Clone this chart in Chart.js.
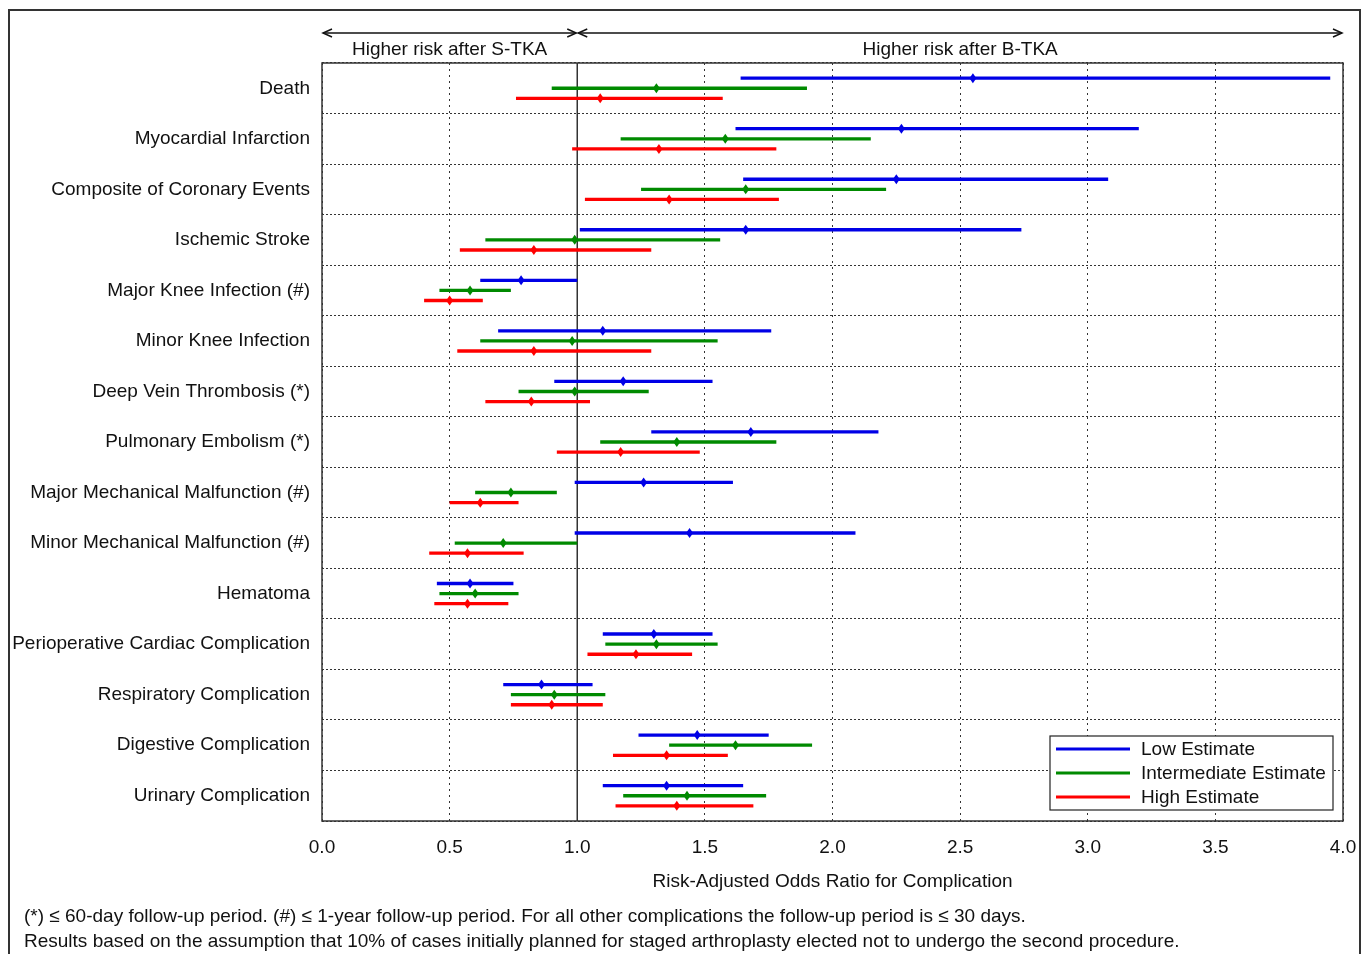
<!DOCTYPE html>
<html lang="en">
<head>
<meta charset="UTF-8">
<title>Risk-Adjusted Odds Ratio for Complication</title>
<script src="https://cdn.jsdelivr.net/npm/chart.js"></script>
<style>
  body { margin: 0; background: #fff; font-family: "Liberation Sans", Arial, sans-serif; }
  #wrap { position: relative; width: 1368px; height: 954px; overflow: hidden; }
  #frame { position: absolute; left: 8px; top: 9px; width: 1353px; height: 980px; border: 2px solid #333; box-sizing: border-box; pointer-events: none; }
  .note { position: absolute; left: 24px; font-size: 19px; color: #111; white-space: nowrap; }
</style>
</head>
<body>
<div id="wrap">
  <canvas id="forest"></canvas>
  <div id="frame"></div>
  <div class="note" style="top:905px">(*) &le; 60-day follow-up period. (#) &le; 1-year follow-up period. For all other complications the follow-up period is &le; 30 days.</div>
  <div class="note" style="top:930px">Results based on the assumption that 10% of cases initially planned for staged arthroplasty elected not to undergo the second procedure.</div>
</div>
<script>
// categories, top to bottom
const categories = [
  'Death', 'Myocardial Infarction', 'Composite of Coronary Events', 'Ischemic Stroke',
  'Major Knee Infection (#)', 'Minor Knee Infection', 'Deep Vein Thrombosis (*)',
  'Pulmonary Embolism (*)', 'Major Mechanical Malfunction (#)', 'Minor Mechanical Malfunction (#)',
  'Hematoma', 'Perioperative Cardiac Complication', 'Respiratory Complication',
  'Digestive Complication', 'Urinary Complication'
];
const xTicks = [0, 0.5, 1, 1.5, 2, 2.5, 3, 3.5, 4];

// odds ratio estimates and confidence limits
const lowPoint  = [2.55, 2.27, 2.25, 1.66, 0.78, 1.10, 1.18, 1.68, 1.26, 1.44, 0.58, 1.30, 0.86, 1.47, 1.35];
const lowLower  = [1.64, 1.62, 1.65, 1.01, 0.62, 0.69, 0.91, 1.29, 0.99, 0.99, 0.45, 1.10, 0.71, 1.24, 1.10];
const lowUpper  = [3.95, 3.20, 3.08, 2.74, 1.00, 1.76, 1.53, 2.18, 1.61, 2.09, 0.75, 1.53, 1.06, 1.75, 1.65];

const midPoint  = [1.31, 1.58, 1.66, 0.99, 0.58, 0.98, 0.99, 1.39, 0.74, 0.71, 0.60, 1.31, 0.91, 1.62, 1.43];
const midLower  = [0.90, 1.17, 1.25, 0.64, 0.46, 0.62, 0.77, 1.09, 0.60, 0.52, 0.46, 1.11, 0.74, 1.36, 1.18];
const midUpper  = [1.90, 2.15, 2.21, 1.56, 0.74, 1.55, 1.28, 1.78, 0.92, 1.00, 0.77, 1.55, 1.11, 1.92, 1.74];

const highPoint = [1.09, 1.32, 1.36, 0.83, 0.50, 0.83, 0.82, 1.17, 0.62, 0.57, 0.57, 1.23, 0.90, 1.35, 1.39];
const highLower = [0.76, 0.98, 1.03, 0.54, 0.40, 0.53, 0.64, 0.92, 0.50, 0.42, 0.44, 1.04, 0.74, 1.14, 1.15];
const highUpper = [1.57, 1.78, 1.79, 1.29, 0.63, 1.29, 1.05, 1.48, 0.77, 0.79, 0.73, 1.45, 1.10, 1.59, 1.69];

const seriesNames = ['Low Estimate', 'Intermediate Estimate', 'High Estimate'];
const seriesColors = ['#0000e6', '#008a00', '#ff0000'];
const points = [lowPoint, midPoint, highPoint];

const FONT = '"Liberation Sans", Arial, sans-serif';

function ranges(lo, hi) {
  return lo.map((v, i) => [v, hi[i]]);
}

// diamonds at the point estimates, placed on each interval bar
const pointMarks = {
  id: 'pointMarks',
  afterDatasetsDraw(chart) {
    const ctx = chart.ctx;
    const x = chart.scales.x;
    chart.data.datasets.forEach((ds, d) => {
      const meta = chart.getDatasetMeta(d);
      meta.data.forEach((bar, i) => {
        const px = x.getPixelForValue(points[d][i]);
        ctx.save();
        ctx.fillStyle = ds.backgroundColor;
        ctx.beginPath();
        ctx.moveTo(px, bar.y - 5);
        ctx.lineTo(px + 3.5, bar.y);
        ctx.lineTo(px, bar.y + 5);
        ctx.lineTo(px - 3.5, bar.y);
        ctx.closePath();
        ctx.fill();
        ctx.restore();
      });
    });
  }
};

// box, reference line at 1.0, header arrows and legend
const decorations = {
  id: 'decorations',
  beforeDatasetsDraw(chart) {
    const ctx = chart.ctx;
    const a = chart.chartArea;
    const x1 = chart.scales.x.getPixelForValue(1);
    ctx.save();
    ctx.strokeStyle = '#333';
    ctx.lineWidth = 1.5;
    ctx.beginPath();
    ctx.moveTo(x1, a.top);
    ctx.lineTo(x1, a.bottom);
    ctx.stroke();
    ctx.restore();
  },
  afterDraw(chart) {
    const ctx = chart.ctx;
    const a = chart.chartArea;
    const x = chart.scales.x;
    ctx.save();
    ctx.strokeStyle = '#333';
    ctx.lineWidth = 1.5;
    ctx.strokeRect(a.left, a.top, a.right - a.left, a.bottom - a.top);

    // arrows
    const y = 33;
    const p0 = x.getPixelForValue(0), p1 = x.getPixelForValue(1), p4 = x.getPixelForValue(4);
    ctx.strokeStyle = '#111';
    ctx.lineWidth = 1.5;
    function arrow(from, to) {
      ctx.beginPath();
      ctx.moveTo(from, y);
      ctx.lineTo(to, y);
      ctx.stroke();
      [[from, 1], [to, -1]].forEach(([px, dir]) => {
        ctx.beginPath();
        ctx.moveTo(px + dir * 9, y - 4);
        ctx.lineTo(px, y);
        ctx.lineTo(px + dir * 9, y + 4);
        ctx.stroke();
      });
    }
    arrow(p0 + 1, p1 - 1);
    arrow(p1 + 1, p4 - 1);
    ctx.fillStyle = '#111';
    ctx.font = '19px ' + FONT;
    ctx.textAlign = 'center';
    ctx.textBaseline = 'middle';
    ctx.fillText('Higher risk after S-TKA', x.getPixelForValue(0.5), 50);
    ctx.fillText('Higher risk after B-TKA', x.getPixelForValue(2.5), 50);

    // legend box
    const bx = a.right - 293, by = a.bottom - 85, bw = 283, bh = 74;
    ctx.fillStyle = '#fff';
    ctx.fillRect(bx, by, bw, bh);
    ctx.strokeStyle = '#222';
    ctx.lineWidth = 1.2;
    ctx.strokeRect(bx, by, bw, bh);
    ctx.textAlign = 'left';
    seriesNames.forEach((name, i) => {
      const ly = by + 13 + i * 24;
      ctx.strokeStyle = seriesColors[i];
      ctx.lineWidth = 3;
      ctx.beginPath();
      ctx.moveTo(bx + 6, ly);
      ctx.lineTo(bx + 80, ly);
      ctx.stroke();
      ctx.fillStyle = '#111';
      ctx.fillText(name, bx + 91, ly + 1);
    });
    ctx.restore();
  }
};

const ctx = document.getElementById('forest').getContext('2d');
new Chart(ctx, {
  type: 'bar',
  data: {
    labels: categories,
    datasets: [
      { label: seriesNames[0], data: ranges(lowLower, lowUpper), backgroundColor: seriesColors[0] },
      { label: seriesNames[1], data: ranges(midLower, midUpper), backgroundColor: seriesColors[1] },
      { label: seriesNames[2], data: ranges(highLower, highUpper), backgroundColor: seriesColors[2] }
    ]
  },
  options: {
    indexAxis: 'y',
    responsive: true,
    maintainAspectRatio: false,
    animation: false,
    categoryPercentage: 0.6,
    barPercentage: 0.33,
    borderSkipped: false,
    layout: { padding: { left: 0, right: 25, top: 63, bottom: 55 } },
    plugins: { legend: { display: false }, tooltip: { enabled: false } },
    scales: {
      x: {
        type: 'linear',
        min: 0,
        max: 4,
        afterBuildTicks(scale) { scale.ticks = xTicks.map(v => ({ value: v })); },
        ticks: {
          color: '#111',
          padding: 15,
          font: { family: FONT, size: 19 },
          callback: v => v.toFixed(1)
        },
        grid: { color: '#333', lineWidth: 1, drawTicks: false },
        border: { display: false, dash: [2, 4] },
        title: {
          display: true,
          text: 'Risk-Adjusted Odds Ratio for Complication',
          color: '#111',
          font: { family: FONT, size: 19 },
          padding: { top: 12, bottom: 6 }
        },
        afterFit(scale) {
          scale.height = 78;
          scale.paddingLeft = 0;
          scale.paddingRight = 0;
        }
      },
      y: {
        ticks: {
          color: '#111',
          padding: 12,
          font: { family: FONT, size: 19 }
        },
        grid: { color: '#333', lineWidth: 1, drawTicks: false, offset: true },
        border: { display: false, dash: [2, 2] },
        afterFit(scale) { scale.width = 322; }
      }
    }
  },
  plugins: [decorations, pointMarks]
});
</script>
</body>
</html>
